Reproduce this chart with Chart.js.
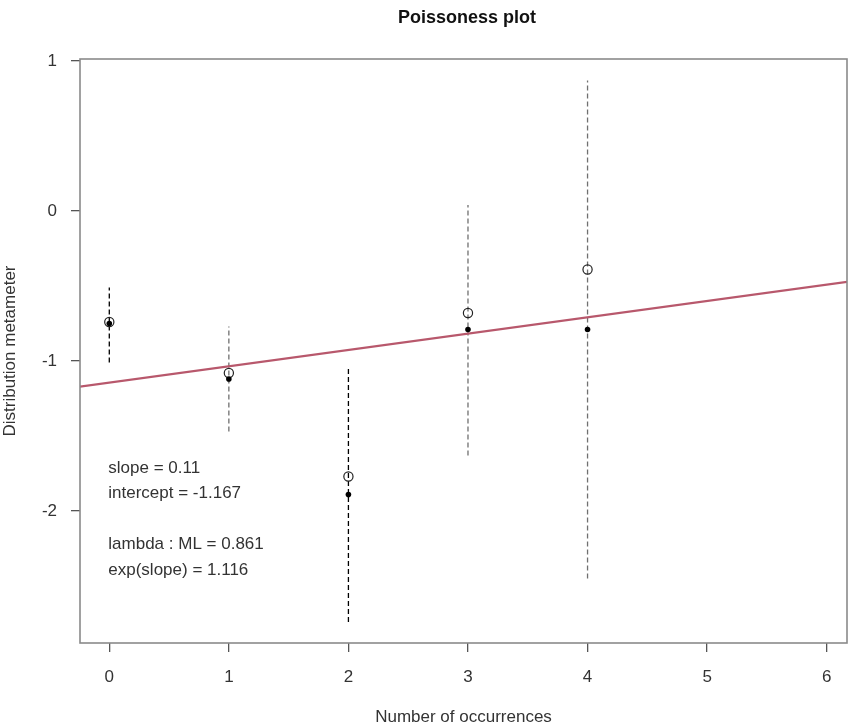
<!DOCTYPE html>
<html>
<head>
<meta charset="utf-8">
<script src="https://cdn.jsdelivr.net/npm/chart.js@4"></script>
<style>
  body { margin: 0; background: #fff; overflow: hidden; }
  canvas { display: block; }
</style>
</head>
<body>
<canvas id="myChart" width="848" height="726"></canvas>
<script>
// values
let counts = [0, 1, 2, 3, 4];
let observed = [-0.74, -1.08, -1.77, -0.68, -0.39];   // open circles
let leveled = [-0.75, -1.12, -1.89, -0.79, -0.79];    // filled points
let ciLower = [-1.01, -1.47, -2.74, -1.63, -2.45];
let ciUpper = [-0.51, -0.77, -1.05, 0.04, 0.87];
// fitted line as drawn
let lineSlope = 0.109;
let lineIntercept = -1.145;
let fitEnds = [-0.3, 6.3];
let xTicks = [0, 1, 2, 3, 4, 5, 6];
let yTicks = [1, 0, -1, -2];
let notes = ['slope = 0.11', 'intercept = -1.167', '', 'lambda : ML = 0.861', 'exp(slope) = 1.116'];

let FONT = "Arial, 'Liberation Sans', sans-serif";

function fitAt(x) {
    return lineIntercept + lineSlope * x;
}

let datasets = [];

// confidence bars, black when the fitted line misses them
for (let i = 0; i < counts.length; i++) {
    let f = fitAt(counts[i]);
    let hit = ciLower[i] <= f && f <= ciUpper[i];
    datasets.push({
        data: [{x: counts[i], y: ciLower[i]}, {x: counts[i], y: ciUpper[i]}],
        showLine: true,
        borderColor: hit ? '#707070' : '#000000',
        borderWidth: 1.3,
        borderDash: [5, 3],
        pointRadius: 0,
        order: 4
    });
}

datasets.push({
    data: fitEnds.map(x => ({x: x, y: fitAt(x)})),
    showLine: true,
    borderColor: 'rgb(184, 88, 108)',
    borderWidth: 2.2,
    pointRadius: 0,
    order: 3
});

datasets.push({
    data: counts.map((c, i) => ({x: c, y: observed[i]})),
    pointRadius: 4.6,
    pointBorderWidth: 1.2,
    pointBorderColor: '#222',
    pointBackgroundColor: 'rgba(0,0,0,0)',
    order: 2
});

datasets.push({
    data: counts.map((c, i) => ({x: c, y: leveled[i]})),
    pointRadius: 2.8,
    pointBorderWidth: 0,
    pointBackgroundColor: '#000',
    order: 1
});

// box, title and the text block
let extras = {
    id: 'extras',
    afterDraw(chart) {
        let c = chart.ctx;
        let a = chart.chartArea;
        c.save();
        c.strokeStyle = '#8a8a8a';
        c.lineWidth = 1.6;
        c.strokeRect(a.left, a.top, a.right - a.left, a.bottom - a.top);

        c.fillStyle = '#111';
        c.font = 'bold 18px ' + FONT;
        c.textAlign = 'center';
        c.textBaseline = 'middle';
        c.fillText('Poissoness plot', 467, 18);

        c.fillStyle = '#333';
        c.font = '17px ' + FONT;
        c.textAlign = 'left';
        let x0 = chart.scales.x.getPixelForValue(0) - 1;
        let y0 = 468;
        let step = 25.5;
        for (let i = 0; i < notes.length; i++) {
            if (notes[i]) c.fillText(notes[i], x0, y0 + i * step);
        }
        c.restore();
    }
};

let ctx = document.getElementById('myChart').getContext('2d');

let myChart = new Chart(ctx, {
    type: 'scatter',
    data: { datasets: datasets },
    options: {
        responsive: false,
        animation: false,
        layout: { autoPadding: false, padding: { top: 59, right: 1, left: 0, bottom: 0 } },
        plugins: {
            legend: { display: false },
            tooltip: { enabled: false }
        },
        scales: {
            x: {
                type: 'linear',
                min: -0.245,
                max: 6.17,
                afterFit: s => { s.height = 83; s.paddingLeft = 0; s.paddingRight = 0; },
                afterBuildTicks: s => { s.ticks = xTicks.map(v => ({value: v})); },
                border: { display: false },
                grid: { drawOnChartArea: false, tickLength: 9, color: '#555', lineWidth: 1.3 },
                ticks: {
                    padding: 15,
                    color: '#333',
                    font: { family: FONT, size: 17 },
                    callback: v => String(v)
                },
                title: {
                    display: true,
                    text: 'Number of occurrences',
                    color: '#333',
                    font: { family: FONT, size: 17 },
                    padding: { top: 0, bottom: -2 }
                }
            },
            y: {
                type: 'linear',
                min: -2.88,
                max: 1.013,
                afterFit: s => { s.width = 80; s.paddingTop = 0; s.paddingBottom = 0; },
                afterBuildTicks: s => { s.ticks = yTicks.map(v => ({value: v})); },
                border: { display: false },
                grid: { drawOnChartArea: false, tickLength: 9, color: '#555', lineWidth: 1.3 },
                ticks: {
                    padding: 14,
                    color: '#333',
                    font: { family: FONT, size: 17 },
                    callback: v => String(v)
                },
                title: {
                    display: true,
                    text: 'Distribution metameter',
                    color: '#333',
                    font: { family: FONT, size: 17 },
                    padding: { top: 0, bottom: 0 }
                }
            }
        }
    },
    plugins: [extras]
});
</script>
</body>
</html>
